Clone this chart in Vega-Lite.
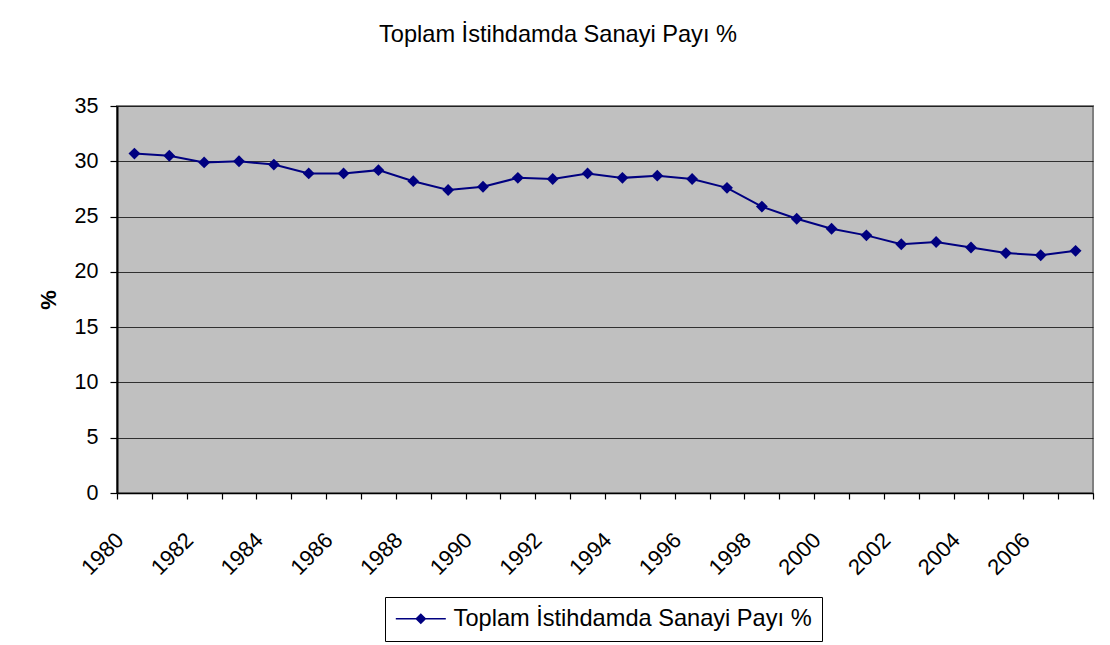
{
  "$schema": "https://vega.github.io/schema/vega-lite/v6.json",
  "autosize": "none",
  "width": 976,
  "height": 387,
  "padding": {"left": 117, "top": 106, "right": 17, "bottom": 152},
  "background": "#ffffff",
  "title": {
    "text": "Toplam İstihdamda Sanayi Payı %",
    "anchor": "middle",
    "frame": "group",
    "dx": -47,
    "offset": 48,
    "font": "Liberation Sans",
    "fontSize": 23.6,
    "fontWeight": "normal",
    "color": "#000000"
  },
  "data": {
    "values": [
      {"year": 1980, "value": 30.7, "series": "Toplam İstihdamda Sanayi Payı %"},
      {"year": 1981, "value": 30.5, "series": "Toplam İstihdamda Sanayi Payı %"},
      {"year": 1982, "value": 29.9, "series": "Toplam İstihdamda Sanayi Payı %"},
      {"year": 1983, "value": 30.0, "series": "Toplam İstihdamda Sanayi Payı %"},
      {"year": 1984, "value": 29.7, "series": "Toplam İstihdamda Sanayi Payı %"},
      {"year": 1985, "value": 28.9, "series": "Toplam İstihdamda Sanayi Payı %"},
      {"year": 1986, "value": 28.9, "series": "Toplam İstihdamda Sanayi Payı %"},
      {"year": 1987, "value": 29.2, "series": "Toplam İstihdamda Sanayi Payı %"},
      {"year": 1988, "value": 28.2, "series": "Toplam İstihdamda Sanayi Payı %"},
      {"year": 1989, "value": 27.4, "series": "Toplam İstihdamda Sanayi Payı %"},
      {"year": 1990, "value": 27.7, "series": "Toplam İstihdamda Sanayi Payı %"},
      {"year": 1991, "value": 28.5, "series": "Toplam İstihdamda Sanayi Payı %"},
      {"year": 1992, "value": 28.4, "series": "Toplam İstihdamda Sanayi Payı %"},
      {"year": 1993, "value": 28.9, "series": "Toplam İstihdamda Sanayi Payı %"},
      {"year": 1994, "value": 28.5, "series": "Toplam İstihdamda Sanayi Payı %"},
      {"year": 1995, "value": 28.7, "series": "Toplam İstihdamda Sanayi Payı %"},
      {"year": 1996, "value": 28.4, "series": "Toplam İstihdamda Sanayi Payı %"},
      {"year": 1997, "value": 27.6, "series": "Toplam İstihdamda Sanayi Payı %"},
      {"year": 1998, "value": 25.9, "series": "Toplam İstihdamda Sanayi Payı %"},
      {"year": 1999, "value": 24.8, "series": "Toplam İstihdamda Sanayi Payı %"},
      {"year": 2000, "value": 23.9, "series": "Toplam İstihdamda Sanayi Payı %"},
      {"year": 2001, "value": 23.3, "series": "Toplam İstihdamda Sanayi Payı %"},
      {"year": 2002, "value": 22.5, "series": "Toplam İstihdamda Sanayi Payı %"},
      {"year": 2003, "value": 22.7, "series": "Toplam İstihdamda Sanayi Payı %"},
      {"year": 2004, "value": 22.2, "series": "Toplam İstihdamda Sanayi Payı %"},
      {"year": 2005, "value": 21.7, "series": "Toplam İstihdamda Sanayi Payı %"},
      {"year": 2006, "value": 21.5, "series": "Toplam İstihdamda Sanayi Payı %"},
      {"year": 2007, "value": 21.9, "series": "Toplam İstihdamda Sanayi Payı %"}
    ]
  },
  "encoding": {
    "x": {
      "field": "year",
      "type": "ordinal",
      "scale": {"type": "band", "paddingInner": 0, "paddingOuter": 0},
      "axis": {
        "title": null,
        "labelAngle": -45,
        "labelAlign": "right",
        "labelBaseline": "top",
        "labelOffset": -22,
        "labelPadding": 30,
        "labelOverlap": false,
        "labelLimit": 200,
        "labelExpr": "datum.value % 2 == 0 ? datum.label : ''",
        "labelFont": "Liberation Sans",
        "labelFontSize": 22,
        "labelColor": "#000000",
        "tickBand": "extent",
        "tickSize": 6,
        "tickColor": "#000000",
        "tickWidth": 1.2,
        "domainColor": "#000000",
        "domainWidth": 1.5,
        "grid": false
      }
    },
    "y": {
      "field": "value",
      "type": "quantitative",
      "scale": {"domain": [0, 35], "nice": false, "zero": true},
      "axis": {
        "title": "%",
        "titleFont": "Liberation Sans",
        "titleFontSize": 22,
        "titleFontWeight": "bold",
        "titleColor": "#000000",
        "titlePadding": 14,
        "values": [0, 5, 10, 15, 20, 25, 30, 35],
        "labelFont": "Liberation Sans",
        "labelFontSize": 21.5,
        "labelColor": "#000000",
        "labelPadding": 12,
        "tickSize": 7,
        "tickColor": "#000000",
        "tickWidth": 1.2,
        "domainColor": "#000000",
        "domainWidth": 2,
        "grid": true,
        "gridColor": "#000000",
        "gridWidth": 1,
        "gridOpacity": 0.75
      }
    },
    "color": {
      "field": "series",
      "type": "nominal",
      "scale": {"range": ["#000080"]},
      "legend": {
        "title": null,
        "orient": "none",
        "legendX": 268,
        "legendY": 491,
        "strokeColor": "#000000",
        "fillColor": "#ffffff",
        "padding": 10,
        "symbolType": "M-1.1,0H3.9M1.4,-0.45L1.85,0L1.4,0.45L0.95,0Z",
        "symbolSize": 400,
        "symbolFillColor": "#000080",
        "symbolStrokeColor": "#000080",
        "symbolStrokeWidth": 1.5,
        "labelOffset": 35,
        "labelLimit": 600,
        "labelFont": "Liberation Sans",
        "labelFontSize": 23.6,
        "labelColor": "#000000"
      }
    }
  },
  "layer": [
    {"mark": {"type": "line", "strokeWidth": 2}},
    {"mark": {"type": "point", "shape": "diamond", "filled": true, "size": 140, "opacity": 1}}
  ],
  "config": {
    "view": {"fill": "#C0C0C0", "stroke": "#808080", "strokeWidth": 2}
  }
}
